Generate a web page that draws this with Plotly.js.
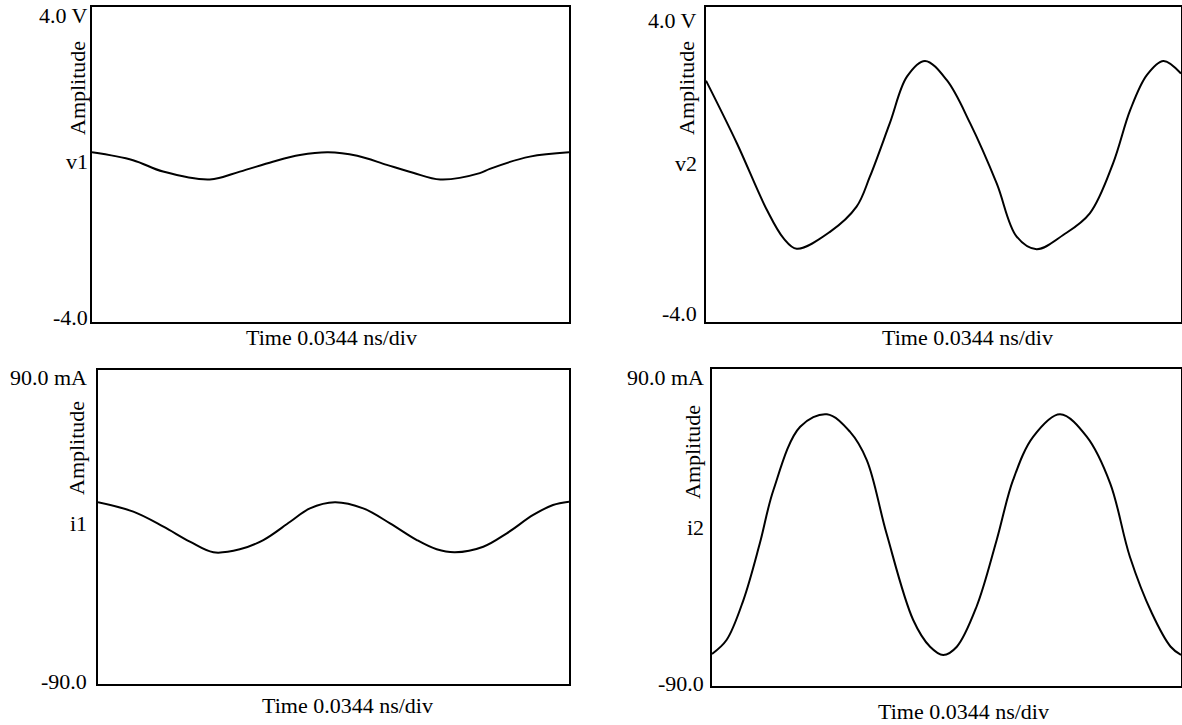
<!DOCTYPE html>
<html>
<head>
<meta charset="utf-8">
<script src="https://cdn.plot.ly/plotly-3.0.1.min.js"></script>
<style>html,body{margin:0;padding:0;background:#fff;}#chart{width:1182px;height:725px;}</style>
</head>
<body>
<div id="chart"></div>
<script>
// time in divisions (0.0344 ns/div)
const v1_t = [0, 0.86, 1.49, 2.47, 3.10, 3.79, 4.36, 4.95, 5.56, 6.18, 6.73, 7.30, 8.13, 8.34, 9.18, 10];
const v1_y = [0.31, 0.11, -0.18, -0.38, -0.18, 0.07, 0.24, 0.31, 0.22, -0.01, -0.21, -0.38, -0.22, -0.11, 0.20, 0.31];

const v2_t = [0, 0.65, 1.28, 1.63, 1.91, 2.61, 3.17, 3.45, 3.87, 4.23, 4.61, 5.07, 5.56, 6.12, 6.54, 6.96, 7.52, 8.08, 8.57, 8.93, 9.28, 9.63, 10];
const v2_y = [2.13, 0.54, -1.15, -1.87, -2.14, -1.71, -1.07, -0.31, 1.05, 2.23, 2.63, 2.14, 1.05, -0.48, -1.83, -2.15, -1.79, -1.24, 0.03, 1.38, 2.27, 2.63, 2.31];

const i1_t = [0, 0.75, 1.39, 1.95, 2.45, 3.01, 3.51, 4.08, 4.50, 5.03, 5.63, 6.20, 6.77, 7.19, 7.58, 8.18, 8.68, 9.24, 9.66, 10];
const i1_y = [14.2, 8.8, 0.2, -8.4, -14.5, -12.8, -7.5, 3.0, 10.7, 14.2, 10.7, 2.1, -7.5, -12.8, -14.5, -11.3, -3.6, 6.9, 12.6, 14.5];

const i2_t = [0, 0.31, 0.67, 1.02, 1.31, 1.88, 2.45, 2.94, 3.30, 3.72, 4.29, 4.65, 4.93, 5.22, 5.64, 6.07, 6.42, 6.85, 7.42, 7.99, 8.49, 8.91, 9.38, 9.78, 10];
const i2_y = [-71.8, -63.9, -41.2, -9.0, 21.3, 57.2, 64.3, 54.4, 38.3, -3.3, -52.5, -67.7, -72.4, -67.7, -45.0, -7.1, 27.0, 51.6, 64.3, 51.6, 25.1, -16.6, -48.7, -67.7, -72.4];

const vRange = [-4, 4];
const iRange = [-90, 90];
const xTitle = "Time 0.0344 ns/div";
const yTitle = "Amplitude";
const tickTop = ["4.0 V", "4.0 V", "90.0 mA", "90.0 mA"];
const tickMid = ["v1", "v2", "i1", "i2"];
const tickBot = ["-4.0", "-4.0", "-90.0", "-90.0"];

const W = 1182, H = 725;
const px = x => x / W;
const py = y => 1 - y / H;

const lineStyle = {color: "#000", width: 2, shape: "spline", smoothing: 1};
const traces = [
  {x: v1_t, y: v1_y, xaxis: "x", yaxis: "y", mode: "lines", line: lineStyle, hoverinfo: "skip"},
  {x: v2_t, y: v2_y, xaxis: "x2", yaxis: "y2", mode: "lines", line: lineStyle, hoverinfo: "skip"},
  {x: i1_t, y: i1_y, xaxis: "x3", yaxis: "y3", mode: "lines", line: lineStyle, hoverinfo: "skip"},
  {x: i2_t, y: i2_y, xaxis: "x4", yaxis: "y4", mode: "lines", line: lineStyle, hoverinfo: "skip"}
];

// panel boxes in pixels: [left, top, right, bottom]
const boxes = [[92, 7, 569, 322], [706, 7, 1181, 322], [98, 370, 569, 684], [712, 369, 1181, 686]];

function ax(domain, range, anchor) {
  return {domain: domain, range: range, anchor: anchor, showline: true, mirror: true, linewidth: 2, linecolor: "#000",
          showgrid: false, zeroline: false, showticklabels: false, ticks: "", fixedrange: true};
}

const layout = {
  width: W, height: H, margin: {l: 0, r: 0, t: 0, b: 0},
  paper_bgcolor: "#fff", plot_bgcolor: "#fff", showlegend: false,
  font: {family: "Liberation Serif, Times New Roman, serif", size: 22, color: "#000"},
  annotations: []
};
const ranges = [vRange, vRange, iRange, iRange];
boxes.forEach((b, k) => {
  const n = k === 0 ? "" : String(k + 1);
  layout["xaxis" + n] = ax([px(b[0]), px(b[2])], [0, 10], "y" + n);
  layout["yaxis" + n] = ax([py(b[3]), py(b[1])], ranges[k], "x" + n);
});

const font = {family: "Liberation Serif, Times New Roman, serif", size: 22, color: "#000"};
function ann(text, x, y, xanchor, opts) {
  layout.annotations.push(Object.assign({text: text, x: px(x), y: py(y), xref: "paper", yref: "paper",
    xanchor: xanchor, yanchor: "middle", showarrow: false, font: font}, opts || {}));
}
// tick labels [x right, yTop, yMid, yBot]
const tickPos = [[90, 16, 162, 317], [699, 20, 164, 313], [89, 377, 523, 681], [706, 378, 527, 683]];
tickPos.forEach((p, k) => {
  ann(tickTop[k], p[0], p[1], "right");
  ann(tickMid[k], p[0], p[2], "right");
  ann(tickBot[k], p[0], p[3], "right");
});
// rotated y titles
[[77, 88], [686, 88], [76, 448], [692, 452]].forEach(p => ann(yTitle, p[0], p[1], "center", {textangle: -90}));
// x titles
[[331, 338], [967, 338], [347, 705], [963, 711]].forEach(p => ann(xTitle, p[0], p[1], "center"));

Plotly.newPlot("chart", traces, layout, {staticPlot: true, displayModeBar: false});
</script>
</body>
</html>
